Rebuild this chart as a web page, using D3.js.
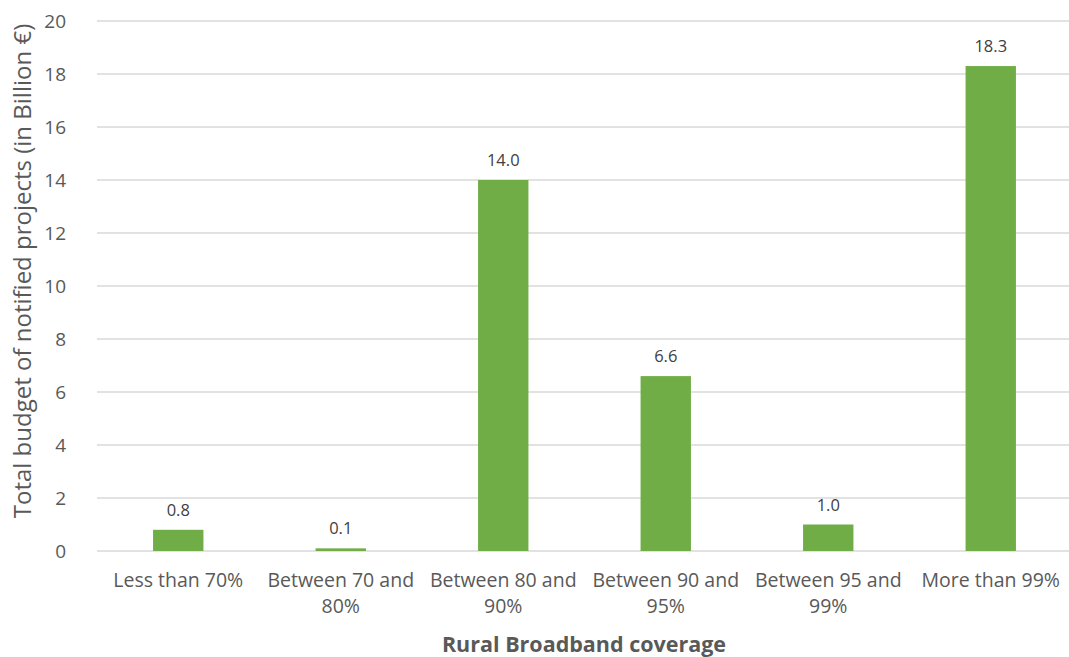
<!DOCTYPE html>
<html><head><meta charset="utf-8">
<script src="https://cdn.jsdelivr.net/npm/d3@7"></script>
<style>
body{margin:0;background:#fff;}
text{font-family:"Open Sans", sans-serif;}
</style></head>
<body><svg id="c" width="1069" height="657"></svg>
<script>
const categories = [["Less than 70%"],["Between 70 and","80%"],["Between 80 and","90%"],["Between 90 and","95%"],["Between 95 and","99%"],["More than 99%"]];
const values = [0.8, 0.1, 14.0, 6.6, 1.0, 18.3];
const valueLabels = ["0.8","0.1","14.0","6.6","1.0","18.3"];
const yTicks = [0,2,4,6,8,10,12,14,16,18,20];
const yTitle = "Total budget of notified projects (in Billion €)";
const xTitle = "Rural Broadband coverage";

const svg = d3.select("#c");
const L=97, R=1072, T=21, B=551;
const x = d3.scaleBand().domain(d3.range(values.length)).range([L,R]).paddingInner(0.69).paddingOuter(0.345);
const y = d3.scaleLinear().domain([0,20]).range([B,T]);

svg.append("g").selectAll("line").data(yTicks).join("line")
  .attr("x1",L).attr("x2",R).attr("y1",d=>y(d)).attr("y2",d=>y(d))
  .attr("stroke","#d9d9d9").attr("stroke-width",1.3);

svg.append("g").selectAll("text").data(yTicks).join("text")
  .attr("x",66).attr("y",d=>y(d)).attr("dy","0.36em").attr("text-anchor","end")
  .attr("fill","#595959").style("font-size","19px").text(d=>d);

svg.append("g").selectAll("rect").data(values).join("rect")
  .attr("x",(d,i)=>x(i)).attr("width",x.bandwidth())
  .attr("y",d=>y(d)).attr("height",d=>B-y(d)).attr("fill","#70ad47");

svg.append("g").selectAll("text").data(values).join("text")
  .attr("x",(d,i)=>x(i)+x.bandwidth()/2).attr("y",d=>y(d)-14)
  .attr("text-anchor","middle").attr("fill","#404040").style("font-size","16.5px")
  .text((d,i)=>valueLabels[i]);

const cat = svg.append("g").selectAll("text").data(categories).join("text")
  .attr("text-anchor","middle").attr("fill","#595959").style("font-size","19.5px")
  .attr("transform",(d,i)=>`translate(${x(i)+x.bandwidth()/2},587)`);
cat.selectAll("tspan").data(d=>d).join("tspan").attr("x",0).attr("dy",(d,j)=>j?26:0).text(d=>d);

svg.append("text").attr("x",584).attr("y",652).attr("text-anchor","middle")
  .attr("fill","#595959").style("font-size","21.5px").style("font-weight","bold").text(xTitle);

svg.append("text").attr("transform",`translate(31,${271}) rotate(-90)`).attr("text-anchor","middle")
  .attr("fill","#595959").style("font-size","24px").text(yTitle);
</script></body></html>
